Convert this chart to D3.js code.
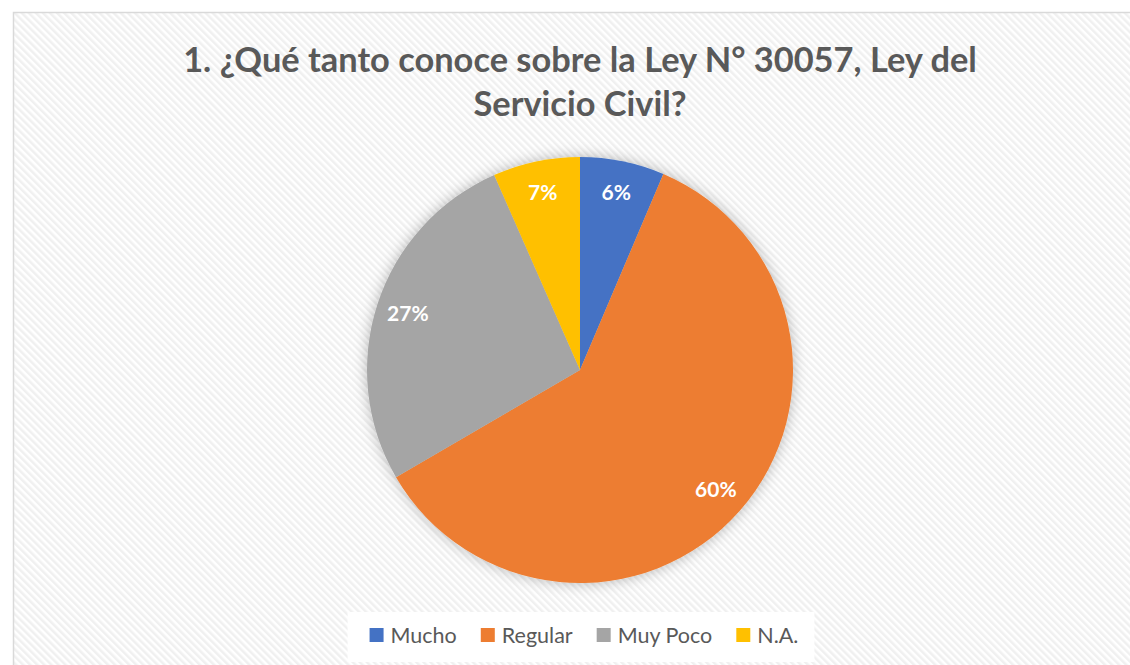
<!DOCTYPE html>
<html>
<head>
<meta charset="utf-8">
<script src="https://cdn.jsdelivr.net/npm/d3@7"></script>
<style>
  html, body { margin: 0; padding: 0; background: #fff; }
  svg { display: block; font-family: Lato, "Open Sans", sans-serif; }
  .chart-title { font-weight: bold; fill: #595959; }
  .slice-label { font-weight: bold; fill: #fff; font-size: 21px; }
  .legend-text { fill: #595959; font-size: 21.5px; }
</style>
</head>
<body>
<div id="chart"></div>
<script>
// --- Pie chart: knowledge of Ley N° 30057 ---

const categories = ['Mucho', 'Regular', 'Muy Poco', 'N.A.'];
const shares = [6.4, 60.2, 26.8, 6.6];
const colors = ['#4472c4', '#ed7d31', '#a5a5a5', '#ffc000'];
const titleLines = ['1. ¿Qué tanto conoce sobre la Ley N° 30057, Ley del', 'Servicio Civil?'];

const W = 1130, H = 665;
const cx = 580, cy = 370, radius = 213;

const svg = d3.select('#chart').append('svg')
  .attr('width', W)
  .attr('height', H);

const defs = svg.append('defs');

const stripes = defs.append('pattern')
  .attr('id', 'stripes')
  .attr('patternUnits', 'userSpaceOnUse')
  .attr('width', 5).attr('height', 5)
  .attr('patternTransform', 'rotate(-45)');
stripes.append('rect').attr('width', 5).attr('height', 5).attr('fill', '#ffffff');
stripes.append('rect').attr('width', 2.5).attr('height', 5).attr('fill', '#f0f0f0');

const glow = defs.append('filter')
  .attr('id', 'glow')
  .attr('x', '-20%').attr('y', '-20%')
  .attr('width', '140%').attr('height', '140%');
glow.append('feDropShadow')
  .attr('dx', 0).attr('dy', 0)
  .attr('stdDeviation', 7)
  .attr('flood-color', '#000')
  .attr('flood-opacity', 0.28);

// chart area with hatched fill
svg.append('rect')
  .attr('x', 13.5).attr('y', 12.5)
  .attr('width', W).attr('height', H)
  .attr('fill', 'url(#stripes)')
  .attr('stroke', '#d9d9d9')
  .attr('stroke-width', 1.5);

// title
const title = svg.append('text')
  .attr('class', 'chart-title')
  .attr('text-anchor', 'middle')
  .attr('font-size', 30);
title.selectAll('tspan')
  .data(titleLines)
  .join('tspan')
  .attr('x', cx)
  .attr('y', (d, i) => 72 + i * 44)
  .text(d => d);
// fit first line to the reference width
const firstLen = title.select('tspan').node().getComputedTextLength();
title.attr('font-size', 30 * 794 / firstLen);

// pie
const pie = d3.pie().sort(null).value(d => d.value);
const arcs = pie(categories.map((c, i) => ({ name: c, value: shares[i], color: colors[i] })));

const arc = d3.arc().innerRadius(0).outerRadius(radius);
const labelArc = d3.arc().innerRadius(radius * 0.85).outerRadius(radius * 0.85);

const pieG = svg.append('g')
  .attr('transform', `translate(${cx},${cy})`);

pieG.append('g')
  .attr('filter', 'url(#glow)')
  .selectAll('path')
  .data(arcs)
  .join('path')
  .attr('d', arc)
  .attr('fill', d => d.data.color);

pieG.selectAll('text')
  .data(arcs)
  .join('text')
  .attr('class', 'slice-label')
  .attr('text-anchor', 'middle')
  .attr('dy', '0.35em')
  .attr('transform', d => `translate(${labelArc.centroid(d)})`)
  .text(d => d3.format('.0f')(d.data.value) + '%');

// legend
const legendBox = svg.append('rect')
  .attr('fill', '#fff')
  .attr('y', 612).attr('height', 50);

const legend = svg.append('g');
const items = legend.selectAll('g')
  .data(categories)
  .join('g');
items.append('rect')
  .attr('width', 14).attr('height', 14)
  .attr('y', 628)
  .attr('fill', (d, i) => colors[i]);
items.append('text')
  .attr('class', 'legend-text')
  .attr('x', 21)
  .attr('y', 643)
  .text(d => d);

let xPos = 0;
items.each(function () {
  const g = d3.select(this);
  g.attr('transform', `translate(${xPos},0)`);
  xPos += 21 + g.select('text').node().getComputedTextLength() + 24;
});
const legendWidth = xPos - 24;
const legendX = cx - legendWidth / 2 + 4;
legend.attr('transform', `translate(${legendX},0)`);
legendBox.attr('x', legendX - 22).attr('width', legendWidth + 38);
</script>
</body>
</html>
